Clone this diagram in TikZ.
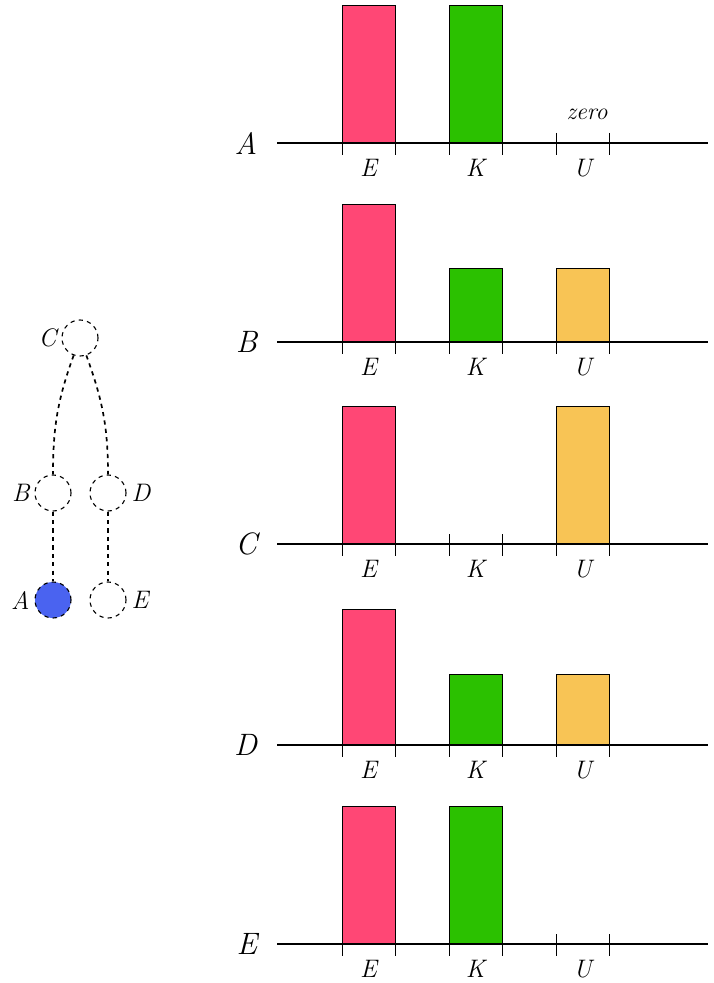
\documentclass[tikz,border=0pt]{standalone}
\usepackage{tikz}
\usetikzlibrary{positioning}
\definecolor{barE}{HTML}{FF4775}
\definecolor{barK}{HTML}{2BC100}
\definecolor{barU}{HTML}{F8C455}
\definecolor{visited}{HTML}{4A63F0}
\tikzset{
  % tree vertex
  vert/.style = {
    draw = black,
    circle,
    dashed,
    thick,
    minimum size = 0.9cm,
    inner sep = 0
  },
  % tree edge
  tedge/.style = {
    draw = black,
    dashed,
    very thick
  },
  % chart axis
  axis/.style = {
    draw = black,
    line width = 1.6pt
  },
  % bar
  bar/.style = {
    draw = black,
    thin
  },
  tick/.style = {
    draw = black,
    thin
  },
  rowlabel/.style = {
    font = \fontsize{22}{24}\selectfont\itshape
  },
  barlabel/.style = {
    font = \fontsize{18}{20}\selectfont\itshape
  }
}

\begin{document}
\begin{tikzpicture}[x=0.025cm,y=-0.025cm]
    \useasboundingbox (0,0) rectangle (713,983);

    % tree
    \node[vert] (C) at (80,338) {};
    \node[vert] (B) at (53,493) {};
    \node[vert] (D) at (108,493) {};
    \node[vert,fill=visited] (A) at (53,600) {};
    \node[vert] (E) at (108,600) {};

    \node[barlabel, left=0pt of C] (C lab) {C};
    \node[barlabel, left=0pt of B] (B lab) {B};
    \node[barlabel, right=0pt of D] (D lab) {D};
    \node[barlabel, left=0pt of A] (A lab) {A};
    \node[barlabel, right=0pt of E] (E lab) {E};

    \draw[tedge] (C) to[out=-110,in=90] (B);
    \draw[tedge] (C) to[out=-70,in=90] (D);
    \draw[tedge] (B) -- (A);
    \draw[tedge] (D) -- (E);

    % charts: name/axis y/E top/K top/U top
    \foreach \row/\ay/\eh/\kh/\uh in {A/143/5/5/143, B/342/204/268/268,
        C/544/406/544/406, D/745/609/674/674, E/944/806/806/944} {
      \node[rowlabel, anchor=east] (\row-name) at (262,\ay) {\row};
      \ifdim\eh pt<\ay pt \draw[bar, fill=barE] (342,\ay) rectangle (395,\eh); \fi
      \ifdim\kh pt<\ay pt \draw[bar, fill=barK] (449,\ay) rectangle (502,\kh); \fi
      \ifdim\uh pt<\ay pt \draw[bar, fill=barU] (556,\ay) rectangle (609,\uh); \fi
      \coordinate (\row-left) at (277,\ay);
      \coordinate (\row-right) at (708,\ay);
      \draw[axis] (\row-left) -- (\row-right);
      \foreach \x in {342,395,449,502,556,609}
        \draw[tick] (\x,\ay-10) -- (\x,\ay+12);
      \node[barlabel] (\row-E) at (368.5,\ay+25) {E};
      \node[barlabel] (\row-K) at (475.5,\ay+25) {K};
      \node[barlabel] (\row-U) at (582.5,\ay+25) {U};
    }
    \node[barlabel, font=\fontsize{17}{19}\selectfont\itshape] (zero) at (587,114) {zero};
  \end{tikzpicture}
\end{document}
